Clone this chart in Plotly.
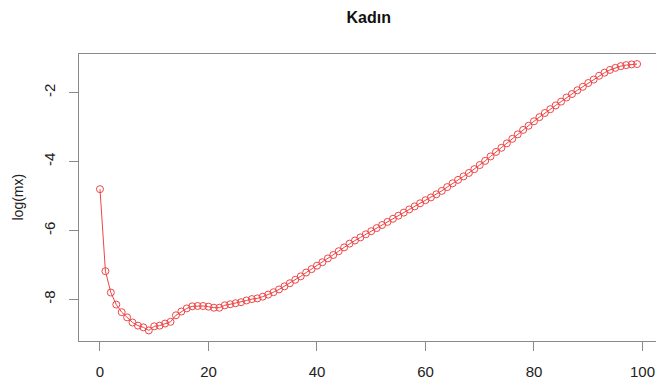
import plotly.graph_objects as go

ages = list(range(100))
log_mx = [
    -4.80, -7.18, -7.80, -8.15, -8.37, -8.52, -8.67, -8.76, -8.81, -8.90,
    -8.78, -8.76, -8.70, -8.65, -8.46, -8.35, -8.26, -8.20, -8.19, -8.19,
    -8.21, -8.24, -8.24, -8.17, -8.14, -8.11, -8.08, -8.03, -7.99, -7.97,
    -7.92, -7.86, -7.79, -7.71, -7.62, -7.53, -7.43, -7.33, -7.22, -7.12,
    -7.02, -6.92, -6.81, -6.71, -6.60, -6.49, -6.38, -6.29, -6.20, -6.11,
    -6.02, -5.93, -5.84, -5.75, -5.66, -5.57, -5.48, -5.39, -5.30, -5.21,
    -5.12, -5.04, -4.95, -4.85, -4.74, -4.63, -4.53, -4.43, -4.33, -4.22,
    -4.10, -3.98, -3.85, -3.72, -3.60, -3.47, -3.34, -3.21, -3.08, -2.96,
    -2.83, -2.71, -2.59, -2.48, -2.37, -2.26, -2.14, -2.04, -1.93, -1.83,
    -1.72, -1.62, -1.51, -1.42, -1.34, -1.28, -1.23, -1.20, -1.18, -1.17,
]
x_ticks = [0, 20, 40, 60, 80, 100]
y_ticks = [-8, -6, -4, -2]
y_tick_labels = ["-8", "-6", "-4", "-2"]
title_text = "Kadın"
y_title = "log(mx)"

FONT = "Liberation Sans, Arial, sans-serif"
AX = "#8a8a8a"
RED = "rgb(238,70,70)"

fig = go.Figure()
fig.add_trace(go.Scatter(
    x=ages, y=log_mx, mode="lines+markers",
    line=dict(color=RED, width=1),
    marker=dict(symbol="circle-open", size=7, color=RED, line=dict(width=1, color=RED)),
    showlegend=False,
))

L, T, B = 79, 54, 42
W, H = 656, 383
pw = W - L

fig.update_layout(
    width=W, height=H,
    margin=dict(l=L, r=0, t=T, b=B, pad=0),
    paper_bgcolor="white", plot_bgcolor="white",
    font=dict(family=FONT, color="#222222", size=15),
    title=dict(text="<b>" + title_text + "</b>", xref="paper", x=(368.8 - L) / pw,
               xanchor="center", yref="container", y=1 - 17 / H, yanchor="middle",
               font=dict(size=16, family=FONT, color="#111111")),
    xaxis=dict(range=[-3.87, 102.49], tickvals=x_ticks, showgrid=False, zeroline=False,
               showline=True, linecolor=AX, linewidth=1, mirror=True,
               ticks="outside", ticklen=9, tickcolor=AX, tickwidth=1,
               ticklabelstandoff=8, tickfont=dict(size=15, color="#222222")),
    yaxis=dict(range=[-9.206, -0.878], tickvals=y_ticks, ticktext=y_tick_labels,
               showgrid=False, zeroline=False,
               showline=True, linecolor=AX, linewidth=1, mirror=False,
               ticks="outside", ticklen=9, tickcolor=AX, tickwidth=1, tickangle=-90,
               ticklabelstandoff=8, tickfont=dict(size=15, color="#222222")),
    annotations=[dict(text=y_title, xref="paper", yref="paper", x=(17 - L) / pw, y=0.5,
                      xanchor="center", yanchor="middle", textangle=-90, showarrow=False,
                      font=dict(size=14, family=FONT, color="#222222"))],
)

fig.write_html("out.html")
